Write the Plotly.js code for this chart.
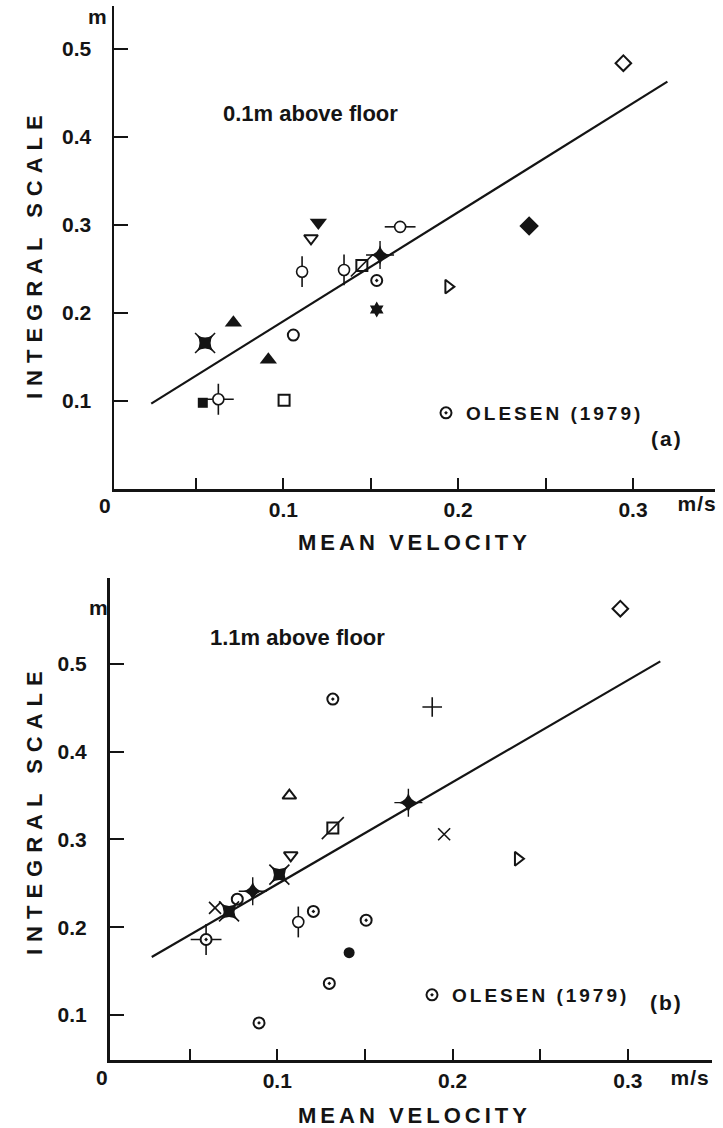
<!DOCTYPE html>
<html>
<head>
<meta charset="utf-8">
<script src="https://cdn.plot.ly/plotly-3.0.1.min.js"></script>
<style>
  html, body { margin: 0; padding: 0; background: #fff; }
  #chart { width: 723px; height: 1128px; }
  /* legend lettering is spaced out; let it run past the computed box */
  #chart text.legendtext,
  #chart g[class^="legend"] text { letter-spacing: 3px !important; }
  #chart .scrollbox, #chart g[class^="legend"] { clip-path: none !important; }
</style>
</head>
<body>
<div id="chart"></div>
<script>
// ---- Panel (a): 0.1 m above floor ----
const velocityA = [0.2945, 0.2406, 0.1668, 0.1200, 0.1158, 0.1107, 0.1347, 0.1449, 0.1553, 0.1534,
                   0.1944, 0.1534, 0.0714, 0.0552, 0.1057, 0.0914, 0.0539, 0.0628, 0.1004];
const scaleA    = [0.484, 0.299, 0.298, 0.303, 0.285, 0.247, 0.249, 0.254, 0.266, 0.237,
                   0.230, 0.204, 0.189, 0.166, 0.175, 0.147, 0.098, 0.102, 0.101];
const glyphA    = ['diamond-open', 'diamond', 'circle-hbar', 'tri-down', 'tri-down-open', 'circle-vbar',
                   'circle-vbar', 'square-slash', 'star-cross', 'olesen', 'tri-right-open', 'hexagram',
                   'tri-up', 'bowtie', 'circle-open', 'tri-up', 'square', 'circle-cross', 'square-open'];
const fitVelocityA = [0.0244, 0.3197];
const fitScaleA    = [0.097, 0.463];

// ---- Panel (b): 1.1 m above floor ----
const velocityB = [0.2957, 0.1884, 0.1317, 0.1069, 0.1317, 0.1748, 0.1952, 0.2373, 0.1077, 0.1012,
                   0.0860, 0.0772, 0.0645, 0.0725, 0.0594, 0.1120, 0.1206, 0.1507, 0.1410, 0.1297, 0.0896];
const scaleB    = [0.563, 0.451, 0.460, 0.350, 0.313, 0.342, 0.306, 0.278, 0.282, 0.260,
                   0.241, 0.232, 0.222, 0.218, 0.186, 0.206, 0.218, 0.208, 0.171, 0.136, 0.091];
const glyphB    = ['diamond-open', 'plus', 'olesen', 'tri-up-open', 'square-slash', 'star-cross', 'cross-x',
                   'tri-right-open', 'tri-down-open', 'bowtie', 'star-cross', 'circle-open', 'cross-x',
                   'bowtie', 'olesen-cross', 'circle-vbar', 'olesen', 'olesen', 'circle', 'olesen', 'olesen'];
const fitVelocityB = [0.0284, 0.3185];
const fitScaleB    = [0.166, 0.503];

// ---- Axis ticks ----
const velocityTicks = [0.1, 0.2, 0.3];
const velocityTickLabels = ['0.1', '0.2', '0.3'];
const scaleTicks = [0.1, 0.2, 0.3, 0.4, 0.5];
const scaleTickLabels = ['0.1', '0.2', '0.3', '0.4', '0.5'];
const legendLabel = 'OLESEN (1979)';

// ---- Glyph drawing: each glyph is a stack of Plotly marker layers ----
const INK = '#141414';
const FONT = 'Liberation Sans, Arial, sans-serif';
const W = 723, H = 1128;

const glyphLayers = {
  'diamond-open':   [{symbol: 'diamond-open', size: 12, lw: 2}],
  'diamond':        [{symbol: 'diamond', size: 15}],
  'circle-hbar':    [{symbol: 'line-ew-open', size: 22, lw: 1.6}, {symbol: 'circle', size: 11, fill: '#fff', lw: 1.6}],
  'circle-vbar':    [{symbol: 'line-ns-open', size: 22, lw: 1.6}, {symbol: 'circle', size: 11, fill: '#fff', lw: 1.6}],
  'circle-cross':   [{symbol: 'cross-thin-open', size: 22, lw: 1.6}, {symbol: 'circle', size: 11, fill: '#fff', lw: 1.6}],
  'tri-down':       [{symbol: 'triangle-down', size: 15}],
  'tri-down-open':  [{symbol: 'triangle-down-open', size: 12, lw: 2}],
  'tri-up':         [{symbol: 'triangle-up', size: 15}],
  'tri-up-open':    [{symbol: 'triangle-up-open', size: 12, lw: 2}],
  'tri-right-open': [{symbol: 'triangle-right-open', size: 12, lw: 2}],
  'square':         [{symbol: 'square', size: 10}],
  'square-open':    [{symbol: 'square-open', size: 11, lw: 2}],
  'square-slash':   [{symbol: 'line-ne-open', size: 22, lw: 1.6}, {symbol: 'square-open', size: 11, lw: 2}],
  'star-cross':     [{symbol: 'cross-thin-open', size: 20, lw: 1.4}, {symbol: 'star-diamond', size: 14}],
  'bowtie':         [{symbol: 'x-thin-open', size: 20, lw: 1.6}, {symbol: 'star-square', size: 15}],
  'hexagram':       [{symbol: 'hexagram', size: 12}],
  'circle-open':    [{symbol: 'circle-open', size: 11, lw: 2}],
  'circle':         [{symbol: 'circle', size: 11}],
  'plus':           [{symbol: 'cross-thin-open', size: 14, lw: 1.6}],
  'cross-x':        [{symbol: 'x-thin-open', size: 12, lw: 1.6}],
  'olesen':         [{symbol: 'circle-open-dot', size: 11, lw: 2, legend: true}],
  'olesen-cross':   [{symbol: 'cross-thin-open', size: 22, lw: 1.6}, {symbol: 'circle', size: 11, fill: '#fff', lw: 0},
                     {symbol: 'circle-open-dot', size: 11, lw: 2}]
};

function panelTraces(xs, ys, glyphs, xaxis, yaxis, legendId) {
  const out = [];
  const order = [];
  glyphs.forEach(g => { if (!order.includes(g)) order.push(g); });
  // whiskers first, bodies on top
  for (let depth = 0; depth < 3; depth++) {
    order.forEach(g => {
      const layer = glyphLayers[g][depth];
      if (!layer) return;
      const idx = glyphs.map((v, i) => v === g ? i : -1).filter(i => i >= 0);
      const filled = !layer.symbol.includes('open');
      out.push({
        type: 'scatter', mode: 'markers', xaxis, yaxis,
        x: idx.map(i => xs[i]), y: idx.map(i => ys[i]),
        name: layer.legend ? legendLabel : g,
        showlegend: !!layer.legend,
        legend: legendId,
        hoverinfo: 'skip',
        cliponaxis: false,
        marker: {
          symbol: layer.symbol, size: layer.size,
          color: layer.fill ? layer.fill : INK,
          line: {color: INK, width: layer.lw !== undefined ? layer.lw : (filled ? 0 : 2)}
        }
      });
    });
  }
  return out;
}

const fitLine = (xs, ys, xaxis, yaxis) => ({
  type: 'scatter', mode: 'lines', x: xs, y: ys, xaxis, yaxis,
  line: {color: INK, width: 2.2}, showlegend: false, hoverinfo: 'skip'
});

const traces = [
  fitLine(fitVelocityA, fitScaleA, 'x', 'y'),
  ...panelTraces(velocityA, scaleA, glyphA, 'x', 'y', 'legend'),
  fitLine(fitVelocityB, fitScaleB, 'x2', 'y2'),
  ...panelTraces(velocityB, scaleB, glyphB, 'x2', 'y2', 'legend2')
];

const tickFont = {family: FONT, size: 21, color: INK, weight: 'bold'};
const xAxisBase = {
  showline: true, linecolor: INK, linewidth: 2.5, showgrid: false, zeroline: false,
  ticks: 'inside', ticklen: 11, tickwidth: 2, tickcolor: INK,
  tickmode: 'array', tickvals: velocityTicks, ticktext: velocityTickLabels,
  minor: {dtick: 0.05, tick0: 0, ticks: 'inside', ticklen: 11, tickwidth: 2, tickcolor: INK, showgrid: false},
  tickfont: tickFont, ticklabelstandoff: 0, fixedrange: true
};
const yAxisBase = {
  showline: true, linecolor: INK, linewidth: 2.5, showgrid: false, zeroline: false,
  ticks: 'inside', ticklen: 14, tickwidth: 2, tickcolor: INK,
  tickmode: 'array', tickvals: scaleTicks, ticktext: scaleTickLabels,
  tickfont: tickFont, ticklabelstandoff: 16, fixedrange: true
};

// pixel helpers for paper placement
const px = v => v / W;
const py = v => 1 - v / H;

const textItems = [
  // [text, xPixel, yPixel, size, bold, angle, letterSpacing]
  ['m', 97, 16, 21, true, 0, 0],
  ['0', 105, 505, 21, true, 0, 0],
  ['m/s', 697, 503, 21, true, 0, 1],
  ['MEAN VELOCITY', 414, 542, 22, true, 0, 4],
  ['INTEGRAL SCALE', 34, 254, 22, true, -90, 7],
  ['0.1m above floor', 310, 113, 22, true, 0, 0],
  ['(a)', 667, 438, 21, true, 0, 2],
  ['m', 98, 607, 21, true, 0, 0],
  ['0', 102, 1077, 21, true, 0, 0],
  ['m/s', 690, 1077, 21, true, 0, 1],
  ['MEAN VELOCITY', 415, 1115, 22, true, 0, 4],
  ['INTEGRAL SCALE', 34, 810, 22, true, -90, 7],
  ['1.1m above floor', 297, 637, 22, true, 0, 0],
  ['(b)', 666, 1002, 21, true, 0, 2]
];

// per-annotation letter spacing, as a stylesheet so it survives redraws
const spacingCss = textItems
  .map((item, i) => item[6] ? `#chart g.annotation[data-index="${i}"] text { letter-spacing: ${item[6]}px; }` : '')
  .join('\n');
const styleEl = document.createElement('style');
styleEl.textContent = spacingCss;
document.head.appendChild(styleEl);

const annotations = textItems.map(([t, x, y, size, bold, angle]) => ({
  text: t,
  xref: 'paper', yref: 'paper', x: px(x), y: py(y),
  xanchor: 'center', yanchor: 'middle', showarrow: false, textangle: angle,
  font: {family: FONT, size, color: INK, weight: bold ? 'bold' : 'normal'}
}));

const legendStyle = {
  font: {family: FONT, size: 19, color: INK, weight: 'bold'},
  bgcolor: 'rgba(0,0,0,0)', borderwidth: 0, xanchor: 'left', yanchor: 'middle',
  xref: 'paper', yref: 'paper', itemclick: false
};

const layout = {
  width: W, height: H,
  margin: {l: 0, r: 0, t: 0, b: 0},
  paper_bgcolor: '#fff', plot_bgcolor: '#fff',
  showlegend: true,
  legend: Object.assign({x: px(426), y: py(413)}, legendStyle),
  legend2: Object.assign({x: px(412), y: py(995)}, legendStyle),
  xaxis: Object.assign({domain: [px(114), px(714.6)], range: [0.0031, 0.3467], anchor: 'y'}, xAxisBase),
  yaxis: Object.assign({domain: [py(489), py(6)], range: [0.0, 0.549], anchor: 'x'}, yAxisBase),
  xaxis2: Object.assign({domain: [px(109.5), px(712)], range: [0.0043, 0.348], anchor: 'y2'}, xAxisBase),
  yaxis2: Object.assign({domain: [py(1060), py(578)], range: [0.0487, 0.598], anchor: 'x2'}, yAxisBase),
  annotations
};

Plotly.newPlot('chart', traces, layout, {staticPlot: true, displayModeBar: false}).then(gd => {
  // any legend label still drawn tight gets the same spacing inline
  gd.querySelectorAll('text').forEach(t => {
    if (t.textContent === legendLabel) t.setAttribute('style', (t.getAttribute('style') || '') + ';letter-spacing:3px');
  });
});
</script>
</body>
</html>
